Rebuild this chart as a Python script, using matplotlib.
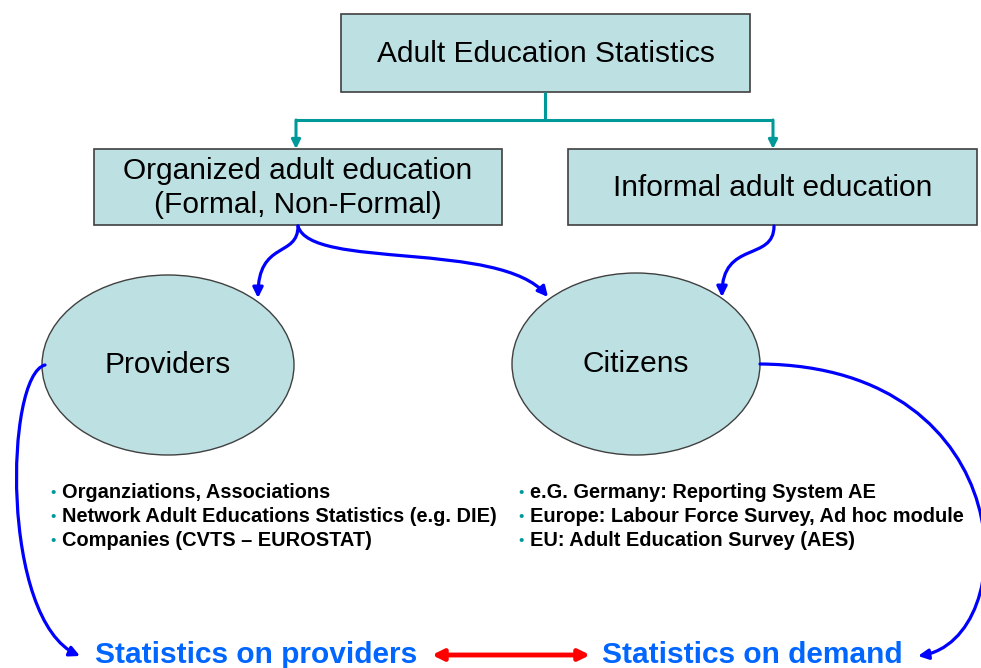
import matplotlib.pyplot as plt
from matplotlib.patches import Rectangle, Ellipse, FancyArrowPatch
from matplotlib.path import Path

plt.rcParams['font.family'] = ['Liberation Sans', 'DejaVu Sans']

BOX_FILL = '#bde0e2'
EDGE = '#404040'
TEAL = '#00999a'
BLUE = '#0000ff'
LINK = '#0066ff'

# boxes: label, (x0, y0, x1, y1) in pixel space
box_labels = ['Adult Education Statistics',
              'Organized adult education\n(Formal, Non-Formal)',
              'Informal adult education']
box_rects = [(341, 14, 750, 92), (94, 149, 502, 225), (568, 149, 977, 225)]

# ellipses: label, center, width, height
ell_labels = ['Providers', 'Citizens']
ell_centers = [(168, 365), (636, 364)]
ell_sizes = [(252, 180), (248, 182)]

left_bullets = ['Organziations, Associations',
                'Network Adult Educations Statistics (e.g. DIE)',
                'Companies (CVTS – EUROSTAT)']
right_bullets = ['e.G. Germany: Reporting System AE',
                 'Europe: Labour Force Survey, Ad hoc module',
                 'EU: Adult Education Survey (AES)']
bullet_rows = [492, 516, 540]

bottom_labels = ['Statistics on providers', 'Statistics on demand']

fig = plt.figure(figsize=(9.81, 6.68), dpi=100)
ax = fig.add_axes([0, 0, 1, 1])
ax.set_xlim(0, 981)
ax.set_ylim(668, 0)
ax.axis('off')

for lab, (x0, y0, x1, y1) in zip(box_labels, box_rects):
    ax.add_patch(Rectangle((x0, y0), x1 - x0, y1 - y0, facecolor=BOX_FILL,
                           edgecolor=EDGE, lw=1.2))
    ax.text((x0 + x1) / 2, (y0 + y1) / 2 + 1, lab, ha='center', va='center',
            fontsize=21.5, linespacing=1.25)

for lab, (cx, cy), (w, h) in zip(ell_labels, ell_centers, ell_sizes):
    ax.add_patch(Ellipse((cx, cy), w, h, facecolor=BOX_FILL, edgecolor=EDGE, lw=1))
    ax.text(cx, cy, lab, ha='center', va='center', fontsize=21.5)

# teal tree connector
ax.plot([545, 545], [92, 120], color=TEAL, lw=2.2, solid_capstyle='butt')
ax.plot([296, 773], [120, 120], color=TEAL, lw=2.2, solid_capstyle='butt')
for x in [296, 773]:
    ax.add_patch(FancyArrowPatch((x, 120), (x, 149), arrowstyle='-|>',
                                 mutation_scale=13, color=TEAL, lw=2.2,
                                 shrinkA=0, shrinkB=0))


def curve(pts, style='-|>', color=BLUE, lw=2.3):
    codes = [Path.MOVETO, Path.CURVE4, Path.CURVE4, Path.CURVE4]
    ax.add_patch(FancyArrowPatch(path=Path(pts, codes), arrowstyle=style,
                                 mutation_scale=15, color=color, lw=lw))


curve([(298, 226), (298, 258), (258, 240), (258, 298)])
curve([(298, 226), (310, 270), (500, 240), (548, 297)])
curve([(774, 226), (774, 262), (722, 240), (722, 297)])
curve([(45, 365), (5, 375), (0, 620), (80, 656)])
curve([(760, 364), (1024, 366), (1024, 640), (918, 656)])

# bullets
for xb, items in [(50, left_bullets), (518, right_bullets)]:
    for y, t in zip(bullet_rows, items):
        ax.text(xb, y + 1, '•', color=TEAL, fontsize=11, ha='left', va='center')
        ax.text(xb + 12, y, t, fontsize=14.4, fontweight='bold', ha='left',
                va='center')

ax.text(95, 655, bottom_labels[0], color=LINK, fontsize=21.5, fontweight='bold',
        ha='left', va='center')
ax.text(602, 655, bottom_labels[1], color=LINK, fontsize=21.5, fontweight='bold',
        ha='left', va='center')
ax.add_patch(FancyArrowPatch((432, 655), (590, 655), arrowstyle='<|-|>',
                             mutation_scale=16, color='#ff0000', lw=3.5,
                             shrinkA=0, shrinkB=0))

fig.savefig('out.png', dpi=100)
